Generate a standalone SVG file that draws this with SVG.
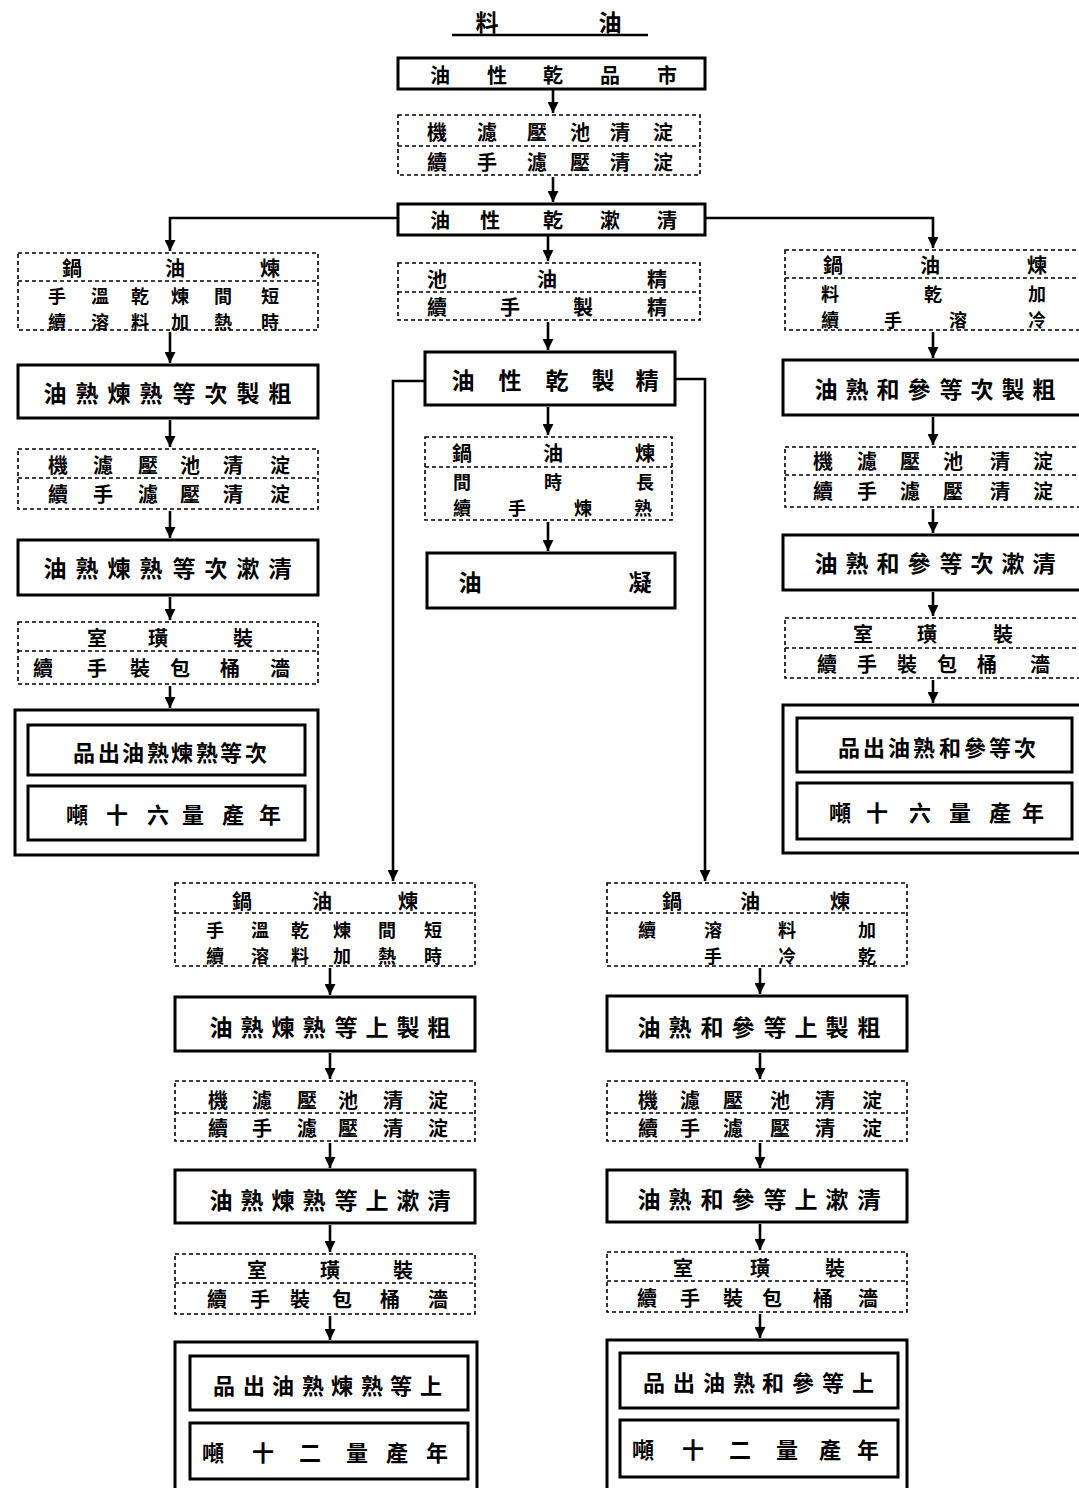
<svg xmlns="http://www.w3.org/2000/svg" width="1079" height="1488" viewBox="0 0 1079 1488">
<style>
.solid{fill:none;stroke:#000;stroke-width:3}
.dash{fill:none;stroke:#000;stroke-width:1.6;stroke-dasharray:4 3}
.div{stroke:#000;stroke-width:1.4;stroke-dasharray:4 3}
.conn{fill:none;stroke:#000;stroke-width:2.6}
.t{font-family:"Noto Sans CJK TC","Noto Sans CJK SC",sans-serif;font-weight:700;font-size:20px;text-anchor:middle;dominant-baseline:central;fill:#000}
.ts{font-family:"Noto Sans CJK TC","Noto Sans CJK SC",sans-serif;font-weight:700;font-size:18px;text-anchor:middle;dominant-baseline:central;fill:#000}
.tb{font-family:"Noto Sans CJK TC","Noto Sans CJK SC",sans-serif;font-weight:700;font-size:23px;text-anchor:middle;dominant-baseline:central;fill:#000}
.tp{font-family:"Noto Sans CJK TC","Noto Sans CJK SC",sans-serif;font-weight:700;font-size:22px;text-anchor:middle;dominant-baseline:central;fill:#000}
</style>
<defs>
<marker id="ah" viewBox="0 0 10 10" refX="10" refY="5" markerWidth="11" markerHeight="11" markerUnits="userSpaceOnUse" orient="auto">
<path d="M0,0 L10,5 L0,10 z" fill="#000"/>
</marker>
</defs>
<rect x="0" y="0" width="1079" height="1488" fill="#fff"/>

<g id="title">
<text class="tb" x="487 610" y="21">料油</text>
<line x1="452" y1="35" x2="648" y2="35" stroke="#000" stroke-width="2.5"/>
</g>

<g id="connectors">
<line class="conn" x1="553" y1="90" x2="553" y2="113" marker-end="url(#ah)"/>
<line class="conn" x1="553" y1="177" x2="553" y2="202" marker-end="url(#ah)"/>
<path class="conn" d="M398,218 H170 V251" marker-end="url(#ah)"/>
<path class="conn" d="M705,218 H933 V248" marker-end="url(#ah)"/>
<line class="conn" x1="548" y1="236" x2="548" y2="261" marker-end="url(#ah)"/>
<line class="conn" x1="548" y1="322" x2="548" y2="350" marker-end="url(#ah)"/>
<line class="conn" x1="548" y1="407" x2="548" y2="435" marker-end="url(#ah)"/>
<line class="conn" x1="548" y1="522" x2="548" y2="551" marker-end="url(#ah)"/>
<path class="conn" d="M425,381 H393 V881" marker-end="url(#ah)"/>
<path class="conn" d="M675,379 H705 V881" marker-end="url(#ah)"/>

<line class="conn" x1="170" y1="332" x2="170" y2="363" marker-end="url(#ah)"/>
<line class="conn" x1="170" y1="420" x2="170" y2="447" marker-end="url(#ah)"/>
<line class="conn" x1="170" y1="511" x2="170" y2="538" marker-end="url(#ah)"/>
<line class="conn" x1="170" y1="597" x2="170" y2="620" marker-end="url(#ah)"/>
<line class="conn" x1="170" y1="686" x2="170" y2="708" marker-end="url(#ah)"/>

<line class="conn" x1="933" y1="332" x2="933" y2="358" marker-end="url(#ah)"/>
<line class="conn" x1="933" y1="417" x2="933" y2="445" marker-end="url(#ah)"/>
<line class="conn" x1="933" y1="509" x2="933" y2="533" marker-end="url(#ah)"/>
<line class="conn" x1="933" y1="592" x2="933" y2="616" marker-end="url(#ah)"/>
<line class="conn" x1="933" y1="680" x2="933" y2="703" marker-end="url(#ah)"/>

<line class="conn" x1="330" y1="968" x2="330" y2="995" marker-end="url(#ah)"/>
<line class="conn" x1="330" y1="1053" x2="330" y2="1079" marker-end="url(#ah)"/>
<line class="conn" x1="330" y1="1143" x2="330" y2="1168" marker-end="url(#ah)"/>
<line class="conn" x1="330" y1="1225" x2="330" y2="1252" marker-end="url(#ah)"/>
<line class="conn" x1="330" y1="1316" x2="330" y2="1340" marker-end="url(#ah)"/>

<line class="conn" x1="760" y1="968" x2="760" y2="994" marker-end="url(#ah)"/>
<line class="conn" x1="760" y1="1053" x2="760" y2="1079" marker-end="url(#ah)"/>
<line class="conn" x1="760" y1="1143" x2="760" y2="1168" marker-end="url(#ah)"/>
<line class="conn" x1="760" y1="1224" x2="760" y2="1250" marker-end="url(#ah)"/>
<line class="conn" x1="760" y1="1314" x2="760" y2="1338" marker-end="url(#ah)"/>
</g>

<!-- center column -->
<g id="n-market">
<rect class="solid" x="398" y="58" width="307" height="31"/>
<text class="t" x="440 497 553 610 667" y="74">油性乾品市</text>
</g>
<g id="n-settle1">
<rect class="dash" x="398" y="115" width="302" height="60"/>
<line class="div" x1="398" y1="146" x2="700" y2="146"/>
<text class="t" x="437 487 537 580 620 663" y="131">機濾壓池清淀</text>
<text class="t" x="437 487 537 580 620 663" y="161">續手濾壓清淀</text>
</g>
<g id="n-clean">
<rect class="solid" x="398" y="204" width="307" height="31"/>
<text class="t" x="440 490 553 610 667" y="219">油性乾漱清</text>
</g>
<g id="n-refine-proc">
<rect class="dash" x="398" y="263" width="302" height="57"/>
<line class="div" x1="398" y1="292" x2="700" y2="292"/>
<text class="t" x="437 547 657" y="278">池油精</text>
<text class="t" x="437 510 583 657" y="306">續手製精</text>
</g>
<g id="n-refined">
<rect class="solid" x="425" y="352" width="250" height="53"/>
<text class="tb" x="463 510 557 603 647" y="379">油性乾製精</text>
</g>
<g id="n-boil">
<rect class="dash" x="425" y="437" width="247" height="83"/>
<line class="div" x1="425" y1="467" x2="672" y2="467"/>
<text class="t" x="462 553 645" y="452">鍋油煉</text>
<text class="ts" x="462 553 645" y="481">間時長</text>
<text class="ts" x="462 517 583 643" y="507">續手煉熟</text>
</g>
<g id="n-solid">
<rect class="solid" x="427" y="553" width="248" height="55"/>
<text class="tb" x="470 640" y="581">油凝</text>
</g>

<!-- left column -->
<g id="n-l1">
<rect class="dash" x="18" y="253" width="300" height="77"/>
<line class="div" x1="18" y1="281" x2="318" y2="281"/>
<text class="t" x="72 175 270" y="267">鍋油煉</text>
<text class="ts" x="57 100 140 180 223 270" y="295">手溫乾煉間短</text>
<text class="ts" x="57 100 140 180 223 270" y="321">續溶料加熱時</text>
</g>
<g id="n-l2">
<rect class="solid" x="18" y="365" width="300" height="53"/>
<text class="tb" x="55 87 119 151 184 216 248 280" y="392">油熟煉熟等次製粗</text>
</g>
<g id="n-l3">
<rect class="dash" x="18" y="449" width="300" height="60"/>
<line class="div" x1="18" y1="478" x2="318" y2="478"/>
<text class="t" x="58 103 148 190 233 280" y="464">機濾壓池清淀</text>
<text class="t" x="58 103 148 190 233 280" y="493">續手濾壓清淀</text>
</g>
<g id="n-l4">
<rect class="solid" x="18" y="540" width="300" height="55"/>
<text class="tb" x="55 87 119 151 184 216 248 280" y="567">油熟煉熟等次漱清</text>
</g>
<g id="n-l5">
<rect class="dash" x="18" y="622" width="300" height="62"/>
<line class="div" x1="18" y1="651" x2="318" y2="651"/>
<text class="t" x="97 158 243" y="637">室璜裝</text>
<text class="t" x="43 97 140 180 230 280" y="667">續手裝包桶濇</text>
</g>
<g id="n-l6">
<rect class="solid" x="15" y="710" width="303" height="145"/>
<rect class="solid" x="28" y="725" width="277" height="50"/>
<rect class="solid" x="28" y="786" width="277" height="54"/>
<text class="tp" x="84 109 133 158 182 207 231 256" y="751">品出油熟煉熟等次</text>
<text class="tp" x="77 117 158 193 233 270" y="813">噸十六量產年</text>
</g>

<!-- right column -->
<g id="n-r1">
<rect class="dash" x="785" y="250" width="300" height="80"/>
<line class="div" x1="785" y1="278" x2="1085" y2="278"/>
<text class="t" x="833 930 1037" y="264">鍋油煉</text>
<text class="ts" x="830 933 1037" y="293">料乾加</text>
<text class="ts" x="830 893 958 1037" y="319">續手溶冷</text>
</g>
<g id="n-r2">
<rect class="solid" x="783" y="360" width="300" height="55"/>
<text class="tb" x="826 857 888 919 951 982 1013 1044" y="388">油熟和參等次製粗</text>
</g>
<g id="n-r3">
<rect class="dash" x="785" y="447" width="300" height="60"/>
<line class="div" x1="785" y1="475" x2="1085" y2="475"/>
<text class="t" x="823 867 910 953 1000 1043" y="460">機濾壓池清淀</text>
<text class="t" x="823 867 910 953 1000 1043" y="490">續手濾壓清淀</text>
</g>
<g id="n-r4">
<rect class="solid" x="783" y="535" width="300" height="55"/>
<text class="tb" x="826 857 888 919 951 982 1013 1044" y="562">油熟和參等次漱清</text>
</g>
<g id="n-r5">
<rect class="dash" x="785" y="618" width="300" height="60"/>
<line class="div" x1="785" y1="648" x2="1085" y2="648"/>
<text class="t" x="863 927 1003" y="633">室璜裝</text>
<text class="t" x="827 867 907 947 987 1040" y="663">續手裝包桶濇</text>
</g>
<g id="n-r6">
<rect class="solid" x="783" y="705" width="300" height="148"/>
<rect class="solid" x="797" y="718" width="275" height="54"/>
<rect class="solid" x="797" y="783" width="275" height="56"/>
<text class="tp" x="849 874 899 924 950 975 1000 1025" y="746">品出油熟和參等次</text>
<text class="tp" x="840 877 920 960 1000 1033" y="811">噸十六量產年</text>
</g>

<!-- bottom left column -->
<g id="n-bl1">
<rect class="dash" x="175" y="883" width="300" height="83"/>
<line class="div" x1="175" y1="913" x2="475" y2="913"/>
<text class="t" x="242 322 408" y="900">鍋油煉</text>
<text class="ts" x="215 260 300 342 387 433" y="929">手溫乾煉間短</text>
<text class="ts" x="215 260 300 342 387 433" y="955">續溶料加熱時</text>
</g>
<g id="n-bl2">
<rect class="solid" x="175" y="997" width="300" height="54"/>
<text class="tb" x="221 252 283 314 346 377 408 439" y="1026">油熟煉熟等上製粗</text>
</g>
<g id="n-bl3">
<rect class="dash" x="175" y="1081" width="300" height="60"/>
<line class="div" x1="175" y1="1113" x2="475" y2="1113"/>
<text class="t" x="218 262 307 348 393 438" y="1099">機濾壓池清淀</text>
<text class="t" x="218 262 307 348 393 438" y="1127">續手濾壓清淀</text>
</g>
<g id="n-bl4">
<rect class="solid" x="175" y="1170" width="300" height="53"/>
<text class="tb" x="221 252 283 314 346 377 408 439" y="1199">油熟煉熟等上漱清</text>
</g>
<g id="n-bl5">
<rect class="dash" x="175" y="1254" width="300" height="60"/>
<line class="div" x1="175" y1="1283" x2="475" y2="1283"/>
<text class="t" x="257 330 403" y="1269">室璜裝</text>
<text class="t" x="217 260 300 342 390 438" y="1298">續手裝包桶濇</text>
</g>
<g id="n-bl6">
<rect class="solid" x="175" y="1342" width="302" height="152"/>
<rect class="solid" x="190" y="1356" width="278" height="54"/>
<rect class="solid" x="190" y="1423" width="278" height="56"/>
<text class="tp" x="224 254 283 313 342 372 401 431" y="1384">品出油熟煉熟等上</text>
<text class="tp" x="213 263 310 357 397 437" y="1451">噸十二量產年</text>
</g>

<!-- bottom right column -->
<g id="n-br1">
<rect class="dash" x="607" y="883" width="300" height="83"/>
<line class="div" x1="607" y1="913" x2="907" y2="913"/>
<text class="t" x="672 750 840" y="900">鍋油煉</text>
<text class="ts" x="647 713 787 867" y="929">續溶料加</text>
<text class="ts" x="713 787 867" y="955">手冷乾</text>
</g>
<g id="n-br2">
<rect class="solid" x="607" y="996" width="300" height="55"/>
<text class="tb" x="649 680 712 743 775 806 837 869" y="1026">油熟和參等上製粗</text>
</g>
<g id="n-br3">
<rect class="dash" x="607" y="1081" width="300" height="60"/>
<line class="div" x1="607" y1="1113" x2="907" y2="1113"/>
<text class="t" x="648 690 733 780 825 872" y="1099">機濾壓池清淀</text>
<text class="t" x="648 690 733 780 825 872" y="1127">續手濾壓清淀</text>
</g>
<g id="n-br4">
<rect class="solid" x="607" y="1170" width="300" height="52"/>
<text class="tb" x="649 680 712 743 775 806 837 869" y="1198">油熟和參等上漱清</text>
</g>
<g id="n-br5">
<rect class="dash" x="607" y="1252" width="300" height="60"/>
<line class="div" x1="607" y1="1281" x2="907" y2="1281"/>
<text class="t" x="683 760 835" y="1267">室璜裝</text>
<text class="t" x="647 690 733 772 823 868" y="1297">續手裝包桶濇</text>
</g>
<g id="n-br6">
<rect class="solid" x="607" y="1340" width="300" height="154"/>
<rect class="solid" x="620" y="1353" width="278" height="55"/>
<rect class="solid" x="620" y="1420" width="278" height="57"/>
<text class="tp" x="654 684 714 744 773 803 833 863" y="1381">品出油熟和參等上</text>
<text class="tp" x="643 693 740 787 830 868" y="1448">噸十二量產年</text>
</g>
</svg>
